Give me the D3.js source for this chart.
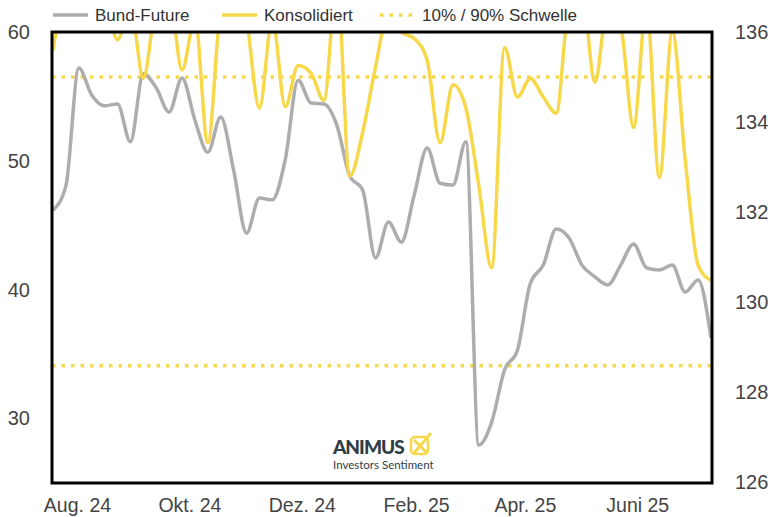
<!DOCTYPE html>
<html>
<head>
<meta charset="utf-8">
<script src="https://cdn.jsdelivr.net/npm/d3@7"></script>
<style>
  body { margin: 0; background: #fff; }
  svg { display: block; font-family: "Liberation Sans", Arial, sans-serif; }
</style>
</head>
<body>
<svg width="768" height="517"></svg>
<script>
'use strict';

// weekly observations, first one on Fri 19.07.2024
const START = new Date(2024, 6, 19);

// Bund-Future (right axis)
const bund = [
    132.04, 132.58, 135.2, 134.6, 134.36, 134.4, 133.56, 135.07, 134.76, 134.22,
    134.98, 134.04, 133.33, 134.11, 132.93, 131.53, 132.31, 132.27, 133.16, 134.93,
    134.42, 134.4, 133.93, 132.8, 132.49, 130.98, 131.78, 131.33, 132.38, 133.42,
    132.64, 132.6, 133.56, 126.82, 127.33, 128.49, 128.93, 130.42, 130.82, 131.62,
    131.42, 130.82, 130.56, 130.38, 130.82, 131.29, 130.76, 130.71, 130.82, 130.22,
    130.49, 129.2
];

// Konsolidiert sentiment (left axis), goes above 60 and is clipped
const konsolidiert = [
    58.6, 64, 66, 65, 63, 59.4, 62, 56.4, 62, 63,
    57.05, 61, 51.4, 62, 65, 61, 54.1, 61, 54.2, 57.4,
    56.8, 54.7, 64, 48.8, 52.2, 57.3, 61.5, 60, 59.5, 57.8,
    51.4, 55.9, 54.1, 48.1, 41.7, 58.8, 54.95, 56.4, 54.95, 53.7,
    62, 63, 56.1, 62, 60.5, 52.6, 62, 48.7, 60, 50.1,
    41.9, 40.7
];

// 10% / 90% thresholds
const thresholds = [34.1, 56.5];

const leftTicks = [30, 40, 50, 60];
const rightTicks = [126, 128, 130, 132, 134, 136];
const monthTicks = [new Date(2024, 7, 1), new Date(2024, 9, 1), new Date(2024, 11, 1),
                    new Date(2025, 1, 1), new Date(2025, 3, 1), new Date(2025, 5, 1)];
const monthLabels = ["Aug. 24", "Okt. 24", "Dez. 24", "Feb. 25", "Apr. 25", "Juni 25"];

const GREY = "#adadad";
const YELLOW = "#f7d84a";

const margin = {top: 32, right: 56, bottom: 34, left: 52};
const width = 768, height = 517;

const dates = bund.map((d, i) => d3.timeWeek.offset(START, i));

const svg = d3.select("svg");

const x = d3.scaleTime()
    .domain([dates[0], dates[dates.length - 1]])
    .range([margin.left + 1, width - margin.right - 1]);
const yLeft = d3.scaleLinear().domain([25, 60]).range([height - margin.bottom, margin.top]);
const yRight = d3.scaleLinear().domain([126, 136]).range([height - margin.bottom - 1, margin.top]);

svg.append("clipPath").attr("id", "plot")
    .append("rect")
    .attr("x", margin.left)
    .attr("y", margin.top)
    .attr("width", width - margin.left - margin.right)
    .attr("height", height - margin.top - margin.bottom);

const plot = svg.append("g").attr("clip-path", "url(#plot)");

// threshold lines
plot.selectAll("line.thr")
    .data(thresholds)
    .enter()
    .append("line")
    .attr("class", "thr")
    .attr("x1", margin.left)
    .attr("x2", width - margin.right)
    .attr("y1", d => yLeft(d))
    .attr("y2", d => yLeft(d))
    .attr("stroke", YELLOW)
    .attr("stroke-width", 3.5)
    .attr("stroke-dasharray", "3.5,6");

// logo
const logo = svg.append("g").attr("transform", "translate(333,0)");
logo.append("text")
    .attr("x", 0).attr("y", 454)
    .attr("font-family", "Lato, sans-serif")
    .attr("font-weight", 900)
    .attr("font-size", 19)
    .attr("letter-spacing", 0.3)
    .attr("textLength", 72)
    .attr("fill", "#2f3d47")
    .text("ANIMUS");
logo.append("rect")
    .attr("x", 78).attr("y", 437).attr("width", 17).attr("height", 17).attr("rx", 4)
    .attr("fill", "none").attr("stroke", YELLOW).attr("stroke-width", 2.5);
logo.append("path")
    .attr("d", "M81,440 L94,453 M98,433 L81,453")
    .attr("stroke", YELLOW).attr("stroke-width", 3).attr("fill", "none");
logo.append("text")
    .attr("x", 0).attr("y", 469)
    .attr("font-family", "Lato, sans-serif")
    .attr("font-size", 11.5)
    .attr("fill", "#2f3d47")
    .text("Investors Sentiment");

const greyLine = d3.line()
    .x((d, i) => x(dates[i]))
    .y(d => yRight(d))
    .curve(d3.curveMonotoneX);

const yellowLine = d3.line()
    .x((d, i) => x(dates[i]))
    .y(d => yLeft(d))
    .curve(d3.curveMonotoneX);

plot.append("path")
    .datum(bund)
    .attr("d", greyLine)
    .attr("fill", "none")
    .attr("stroke", GREY)
    .attr("stroke-width", 3.5)
    .attr("stroke-linejoin", "round");

plot.append("path")
    .datum(konsolidiert)
    .attr("d", yellowLine)
    .attr("fill", "none")
    .attr("stroke", YELLOW)
    .attr("stroke-width", 3.5)
    .attr("stroke-linejoin", "round");

// frame
svg.append("rect")
    .attr("x", margin.left)
    .attr("y", margin.top)
    .attr("width", width - margin.left - margin.right)
    .attr("height", height - margin.top - margin.bottom)
    .attr("fill", "none")
    .attr("stroke", "#000")
    .attr("stroke-width", 3);

// axes
const leftAxis = svg.append("g")
    .attr("transform", "translate(" + (margin.left - 19) + ",0)")
    .call(d3.axisLeft(yLeft).tickValues(leftTicks).tickSize(0));
const rightAxis = svg.append("g")
    .attr("transform", "translate(" + (width - margin.right + 20) + ",0)")
    .call(d3.axisRight(yRight).tickValues(rightTicks).tickSize(0));
const bottomAxis = svg.append("g")
    .attr("transform", "translate(0,512)")
    .call(d3.axisBottom(x).tickValues(monthTicks).tickSize(0)
        .tickFormat((d, i) => monthLabels[i]));

[leftAxis, rightAxis, bottomAxis].forEach(a => {
    a.select(".domain").remove();
    a.selectAll("text")
        .attr("font-family", "Liberation Sans, Arial, sans-serif")
        .attr("fill", "#444");
});
leftAxis.selectAll("text").attr("font-size", 20).attr("dx", 0);
rightAxis.selectAll("text").attr("font-size", 20).attr("dx", 0);
bottomAxis.selectAll("text").attr("font-size", 19.5).attr("y", 0).attr("dy", 0);

// legend
const legendItems = [
    {label: "Bund-Future", color: GREY, dash: null, x: 53},
    {label: "Konsolidiert", color: YELLOW, dash: null, x: 222},
    {label: "10% / 90% Schwelle", color: YELLOW, dash: "3.5,6", x: 380}
];
const legend = svg.append("g")
    .selectAll("g")
    .data(legendItems)
    .enter()
    .append("g")
    .attr("transform", d => "translate(" + d.x + ",15)");
legend.append("line")
    .attr("x1", 0).attr("x2", 35)
    .attr("stroke", d => d.color)
    .attr("stroke-width", 3.5)
    .attr("stroke-dasharray", d => d.dash);
legend.append("text")
    .attr("x", 42)
    .attr("dy", "0.35em")
    .attr("font-size", 17)
    .attr("fill", "#333")
    .text(d => d.label);
</script>
</body>
</html>
